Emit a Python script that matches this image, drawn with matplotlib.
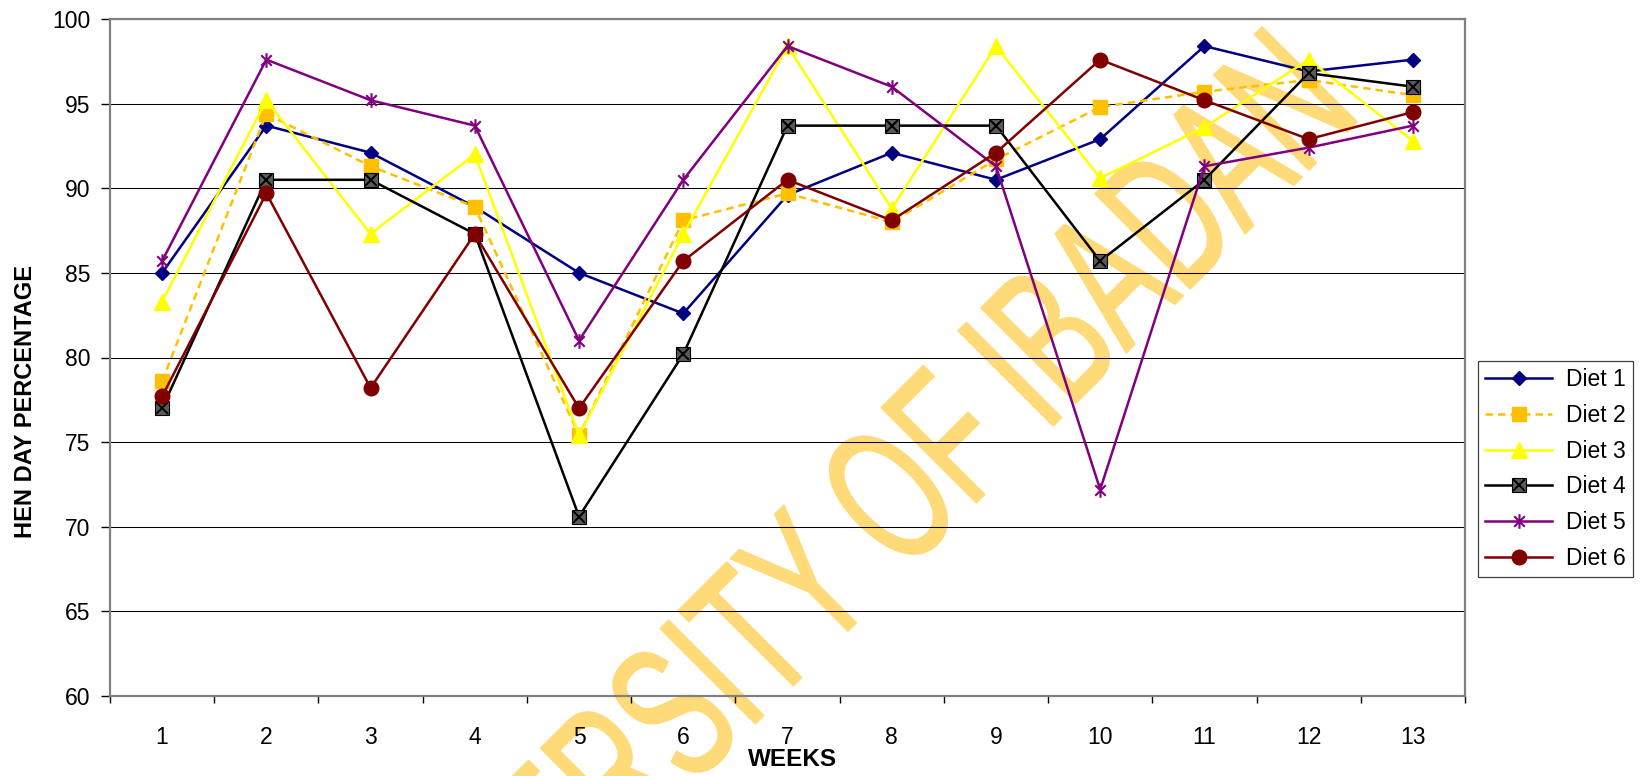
import numpy as np
import matplotlib
matplotlib.use("Agg")
import matplotlib.pyplot as plt
from matplotlib.path import Path
from matplotlib.patches import PathPatch
from matplotlib.textpath import TextPath
from matplotlib.font_manager import FontProperties
from matplotlib.transforms import Affine2D, IdentityTransform
from matplotlib.legend_handler import HandlerTuple

plt.rcParams['font.family'] = ['Liberation Sans', 'DejaVu Sans']

# ---- data: hen-day egg production (%) per week for six diets ----
weeks = list(range(1, 14))
week_labels = [str(w) for w in weeks]
diet1 = [85.0, 93.7, 92.1, 88.9, 85.0, 82.6, 89.6, 92.1, 90.5, 92.9, 98.4, 96.9, 97.6]
diet2 = [78.6, 94.4, 91.3, 88.9, 75.4, 88.1, 89.7, 88.0, 91.7, 94.8, 95.7, 96.4, 95.5]
diet3 = [83.3, 95.2, 87.3, 92.0, 75.4, 87.3, 98.4, 88.8, 98.4, 90.6, 93.6, 97.6, 92.8]
diet4 = [77.0, 90.5, 90.5, 87.3, 70.6, 80.2, 93.7, 93.7, 93.7, 85.7, 90.5, 96.8, 96.0]
diet5 = [85.7, 97.6, 95.2, 93.7, 81.0, 90.5, 98.4, 96.0, 91.3, 72.2, 91.3, 92.4, 93.7]
diet6 = [77.7, 89.7, 78.2, 87.3, 77.0, 85.7, 90.5, 88.1, 92.1, 97.6, 95.2, 92.9, 94.5]
series_names = ['Diet 1', 'Diet 2', 'Diet 3', 'Diet 4', 'Diet 5', 'Diet 6']
y_ticks = [60, 65, 70, 75, 80, 85, 90, 95, 100]

W, H = 1646, 776
fig = plt.figure(figsize=(W / 100, H / 100), dpi=100)
ax = fig.add_axes([110 / W, 1 - 696 / H, (1465 - 110) / W, (696 - 19) / H])

# asterisk marker: vertical bar plus an X
ast = Path([(0, -1), (0, 1), (-0.72, -0.72), (0.72, 0.72), (-0.72, 0.72), (0.72, -0.72)],
           [Path.MOVETO, Path.LINETO, Path.MOVETO, Path.LINETO, Path.MOVETO, Path.LINETO])

lw = 1.8
h1, = ax.plot(weeks, diet1, color='#000080', lw=lw, marker='D', ms=7.5,
              mfc='#000080', mec='#000080', zorder=3)
h2, = ax.plot(weeks, diet2, color='#FFC000', lw=lw, ls=(0, (3, 2)), marker='s', ms=9.5,
              mfc='#FFC000', mec='#FFC000', zorder=4)
h3, = ax.plot(weeks, diet3, color='#FFFF00', lw=lw, marker='^', ms=11,
              mfc='#FFFF00', mec='#FFFF00', zorder=5)
h4a, = ax.plot(weeks, diet4, color='#000000', lw=lw, marker='s', ms=10,
               mfc='#5A5A5A', mec='#000000', mew=0.8, zorder=6)
h4b, = ax.plot(weeks, diet4, ls='none', marker='x', ms=8.5, mec='#000000', mew=1.4, zorder=6.1)
h5, = ax.plot(weeks, diet5, color='#800080', lw=lw, marker=ast, ms=10.5,
              mfc='none', mec='#800080', mew=1.5, zorder=7)
h6, = ax.plot(weeks, diet6, color='#800000', lw=lw, marker='o', ms=10.5,
              mfc='#800000', mec='#800000', zorder=8)

ax.set_xlim(0.5, 13.5)
ax.set_ylim(60, 100)
ax.set_yticks(y_ticks)
ax.set_xticks(weeks)
ax.set_xticklabels(week_labels)
ax.set_xticks(np.arange(0.5, 14, 1), minor=True)
ax.tick_params(axis='x', which='major', length=0, pad=21.5, labelsize=16.5)
ax.tick_params(axis='x', which='minor', length=5, width=1, direction='out', color='black')
ax.tick_params(axis='y', which='major', length=6.5, width=1, direction='out', pad=7.5,
               labelsize=16.5, color='black')
ax.yaxis.grid(True, color='black', lw=0.75)
for s in ax.spines.values():
    s.set_color('#808080')
    s.set_linewidth(1.6)

fig.text(26 / W, 1 - 401 / H, 'HEN DAY PERCENTAGE', rotation=90, ha='center', va='center',
         fontsize=17, fontweight='bold')
fig.text(793 / W, 1 - 760 / H, 'WEEKS', ha='center', va='center', fontsize=17.5,
         fontweight='bold')

leg = ax.legend([h1, h2, h3, (h4a, h4b), h5, h6], series_names,
                handler_map={tuple: HandlerTuple(ndivide=1, pad=0)},
                loc='upper left', bbox_to_anchor=(1478 / W, 1 - 361 / H),
                bbox_transform=fig.transFigure, borderaxespad=0, numpoints=1,
                fontsize=16.5, handlelength=2.95, handletextpad=0.6, borderpad=0.3,
                labelspacing=0.56, fancybox=False, framealpha=1, edgecolor='#404040')
leg.get_frame().set_linewidth(0.9)

# diagonal watermark text
fp = FontProperties(family='Liberation Sans')
wm_text = "UNIVERSITY OF IBADAN"
def ink_right(s):
    return TextPath((0, 0), s, size=100, prop=fp).get_extents().x1
i_ext = TextPath((0, 0), "I", size=100, prop=fp).get_extents()
stem = i_ext.width
cap = i_ext.height
xa = ink_right("UNIVERSI") - stem / 2
xb = ink_right("UNIVERSITY OF I") - stem / 2
p1 = np.array([712.0, H - 672.0])
p2 = np.array([1004.0, H - 380.0])
d = p2 - p1
ang = np.arctan2(d[1], d[0])
sx = np.hypot(*d) / (xb - xa) * 1.02
sy = 134.0 / cap
wm_path = TextPath((0, 0), wm_text, size=100, prop=fp)
tr = Affine2D().translate(-xa, -cap / 2).scale(sx, sy).rotate(ang).translate(*p1)
wm = PathPatch(tr.transform_path(wm_path), facecolor='#FFDA78', edgecolor='#FFDA78',
               lw=1.5, joinstyle='round', transform=IdentityTransform(), clip_on=False,
               zorder=1.2)
ax.add_patch(wm)

fig.savefig('out.png', dpi=100)
